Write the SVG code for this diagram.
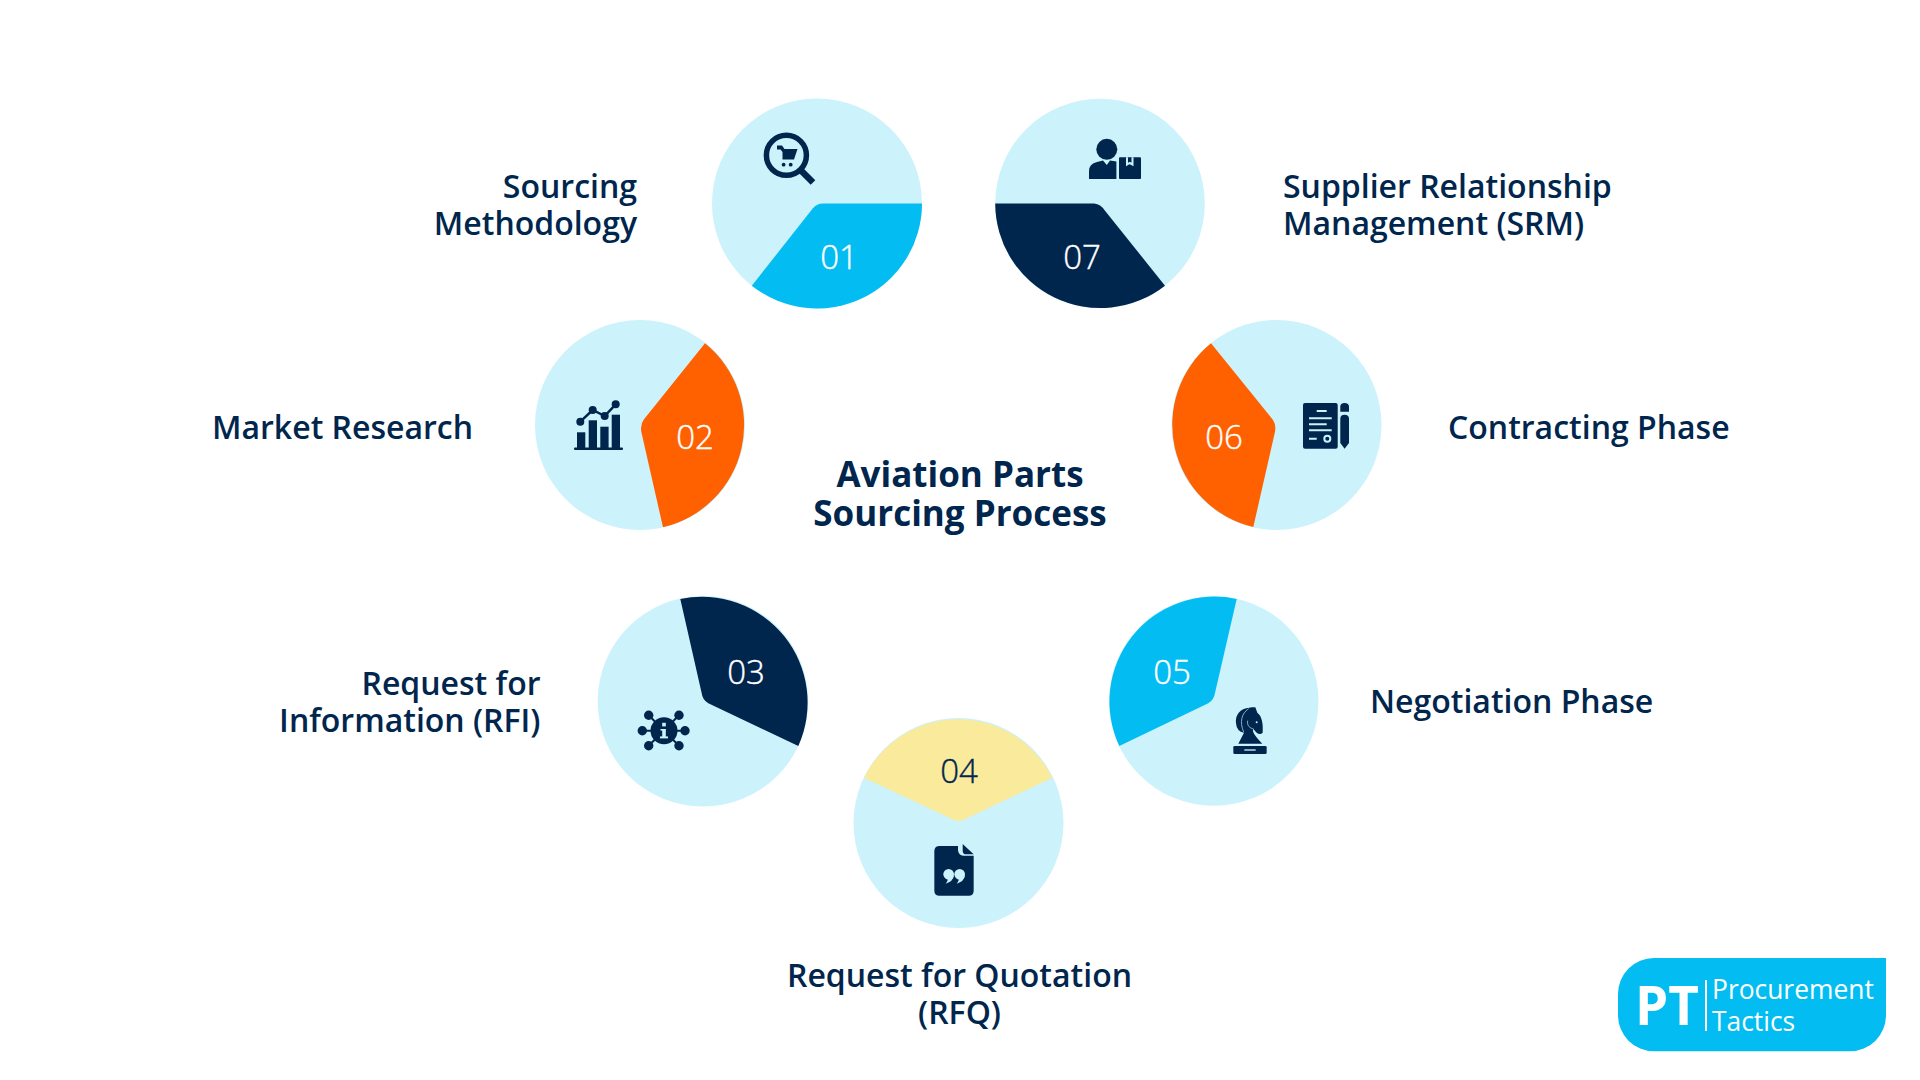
<svg xmlns="http://www.w3.org/2000/svg" width="1920" height="1080" viewBox="0 0 1920 1080">
<style>
text{font-family:"Open Sans","Noto Sans","Liberation Sans",sans-serif}
.bg{fill:#ccf2fc}
.cy{fill:#03bdf2}
.nv,.ic{fill:#00264d}
.or{fill:#ff6000}
.ye{fill:#f9ea9c}
.num{font-size:33px;font-weight:300;fill:#fff;stroke:#fff;stroke-width:.4;text-anchor:middle}
.lb{font-size:32px;font-weight:600;fill:#00264d}
.end{text-anchor:end}
.mid{text-anchor:middle}
.title{font-size:35px;font-weight:700;fill:#00264d;text-anchor:middle}
.lt{stroke:#ccf2fc;stroke-width:2;fill:none}
.st{stroke:#00264d;fill:none}
</style>
<rect width="1920" height="1080" fill="#fff"/>

<g id="node-01">
<circle class="bg" cx="817" cy="203.5" r="105"/>
<path class="cy" d="M922 203.5A105 105 0 0 1 751.8 285.7L812.9 208.3Q817 203.7 822.9 203.5Z"/>
<text class="num" x="845" y="269" dx="-6">01</text>
<circle class="st" cx="786.4" cy="155.3" r="20" stroke-width="5.5"/>
<path class="st" d="M801 170.5L813 182.5" stroke-width="6.5"/>
<path class="ic" d="M777 145.5h5l2.5 3.5H797.5L794 159.5H782.5V152L780.5 149.5H777Z"/>
<circle class="ic" cx="783.6" cy="164.7" r="1.9"/><circle class="ic" cx="790.7" cy="164.7" r="1.9"/>
<text class="lb end" x="637" y="198">Sourcing</text>
<text class="lb end" x="637" y="235">Methodology</text>
</g>

<g id="node-02">
<circle class="bg" cx="640" cy="425" r="105"/>
<path class="or" d="M705 343.3A105 105 0 0 1 663 527.3L641.3 431.7Q640 424.5 644 419.3Z"/>
<text class="num" x="695" y="448.5">02</text>
<rect class="ic" x="574" y="447.5" width="49" height="2.4" rx="1"/>
<rect class="ic" x="577" y="432.3" width="8.3" height="16"/><rect class="ic" x="588.7" y="420.3" width="8.3" height="28"/><rect class="ic" x="600.3" y="426.7" width="8.3" height="22"/><rect class="ic" x="611.7" y="414.7" width="8.3" height="34"/>
<path class="st" d="M580.3 421.7L592.7 410L604.7 416L615.7 404.3" stroke-width="2.5"/>
<circle class="ic" cx="580.3" cy="421.7" r="4"/><circle class="ic" cx="592.7" cy="410" r="4"/><circle class="ic" cx="604.7" cy="416" r="4"/><circle class="ic" cx="615.7" cy="404.3" r="4"/>
<text class="lb" x="212" y="439">Market Research</text>
</g>

<g id="node-03">
<circle class="bg" cx="703" cy="701.3" r="105.3"/>
<path class="nv" d="M680.3 599A105.8 105.8 0 0 1 798.3 746L708.3 703.3Q702.5 700 701.7 693.3Z"/>
<text class="num" x="746" y="683.7">03</text>
<path class="st" d="M648.7 715.3L679 745.7M679 715.3L648.7 745.7M642.3 730.7H685" stroke-width="2"/>
<circle class="ic" cx="664" cy="730.7" r="13.5"/>
<circle class="ic" cx="648.7" cy="715.3" r="4.7"/><circle class="ic" cx="679" cy="715.3" r="4.7"/><circle class="ic" cx="642.3" cy="730.7" r="4.7"/><circle class="ic" cx="685" cy="730.7" r="4.7"/><circle class="ic" cx="648.7" cy="745.7" r="4.7"/><circle class="ic" cx="679" cy="745.7" r="4.7"/>
<rect class="bg" x="662.2" y="722.8" width="3.6" height="3.6"/><rect class="bg" x="662.2" y="729" width="3.6" height="8"/><rect class="bg" x="660.5" y="729" width="5" height="1.6"/><rect class="bg" x="660" y="736.4" width="8" height="2"/>
<text class="lb end" x="540.5" y="695">Request for</text>
<text class="lb end" x="540.5" y="732">Information (RFI)</text>
</g>

<g id="node-04">
<circle class="bg" cx="958.5" cy="823" r="105"/>
<path class="ye" d="M864 777.7A105 105 0 0 1 1052.3 777.7L963.3 820Q958.5 822 954 820Z"/>
<text class="num" x="959" y="783" style="fill:#00264d;stroke:#00264d">04</text>
<g transform="translate(850 710) scale(.33333)">
<path class="ic" d="M269 408H324V420Q325 436 340 437H371V542Q371 557 356 557H269Q253 557 253 542V424Q253 408 269 408Z"/>
<path class="ic" d="M338 402L371 433H349Q338 433 338 422Z"/>
<circle class="bg" cx="296" cy="493" r="16"/>
<circle class="bg" cx="329" cy="493" r="16"/>
<path class="bg" d="M312 497Q309 514 287 521Q296 510 292 503Z"/>
<path class="bg" d="M345 497Q342 514 320 521Q329 510 325 503Z"/>
</g>
<text class="lb mid" x="959.5" y="987">Request for Quotation</text>
<text class="lb mid" x="959.5" y="1024">(RFQ)</text>
</g>

<g id="node-05">
<circle class="bg" cx="1213.7" cy="701" r="104.8"/>
<path class="cy" d="M1236.7 599A105 105 0 0 0 1119.3 746L1208.3 703.3Q1214 700 1215.3 691.7Z"/>
<text class="num" x="1172" y="683.7">05</text>
<g transform="translate(1100 590) scale(.33333)">
<rect class="ic" x="400" y="468" width="100" height="24" rx="4"/>
<rect class="bg" x="433" y="478" width="34" height="4"/>
<path class="ic" d="M415 461L432 428Q410 425 408 400C405 375 420 355 448 353L455 352H466L472 368C485 378 490 398 488 428Q480 436 470 428L459 416C456 430 472 444 487 461Z"/>
<path class="lt" d="M446 356C425 370 418 395 431 426M443 392C440 408 452 416 460 416" stroke-width="3"/>
<circle class="bg" cx="470" cy="397" r="3"/>
</g>
<text class="lb" x="1370" y="713">Negotiation Phase</text>
</g>

<g id="node-06">
<circle class="bg" cx="1276.5" cy="425" r="105"/>
<path class="or" d="M1211 343.3A105 105 0 0 0 1253.3 527L1275 431.7Q1276.5 424 1271.7 418.3Z"/>
<text class="num" x="1224" y="448.5">06</text>
<rect class="ic" x="1303" y="403" width="34.7" height="45.7" rx="2"/>
<path class="lt" d="M1316.7 411H1326.7M1309 418.3H1331.7M1309 424.3H1326.7M1309 430.3H1331.7M1309 438.7H1316.7"/>
<circle class="lt" cx="1327.3" cy="438.7" r="3"/>
<path class="ic" d="M1340.3 411.7V406.5Q1340.3 403 1344.6 403T1349 406.5V411.7ZM1340.3 418.5Q1340.3 414.7 1344.6 414.7T1349 418.5V443L1344.6 448.7L1340.3 443Z"/>
<text class="lb" x="1448" y="439">Contracting Phase</text>
</g>

<g id="node-07">
<circle class="bg" cx="1100" cy="203.5" r="104.8"/>
<path class="nv" d="M995.2 203.5A105 105 0 0 0 1165 285.7L1105 210.7Q1100.5 204 1094.3 203.5Z"/>
<text class="num" x="1082" y="269">07</text>
<circle class="ic" cx="1106.8" cy="149.3" r="10.5"/>
<path class="ic" d="M1089 179V171Q1089 164 1097 162L1103 160.5L1106.8 165L1110 160.5L1116.4 161.5V179Z"/>
<rect class="ic" x="1119" y="157.3" width="22" height="21.7" rx="1"/>
<path class="lt" d="M1127 157.3V164.5L1129.7 163L1132.5 164.5V157.3" stroke-width="1.2"/>
<text class="lb" x="1283" y="198">Supplier Relationship</text>
<text class="lb" x="1283" y="235">Management (SRM)</text>
</g>

<g id="title">
<text class="title" x="960" y="486.5">Aviation Parts</text>
<text class="title" x="960" y="526">Sourcing Process</text>
</g>

<g id="logo">
<path class="cy" d="M1654 958H1886V1015A36 36 0 0 1 1850 1051.3H1654A36 36 0 0 1 1618 1015V994A36 36 0 0 1 1654 958Z"/>
<text x="1635" y="1025" font-size="53" font-weight="700" fill="#fff">PT</text>
<rect x="1705" y="980" width="2" height="51" fill="#fff"/>
<text x="1712" y="999" font-size="26.4" fill="#fff">Procurement</text>
<text x="1712" y="1031" font-size="26.4" fill="#fff">Tactics</text>
</g>
</svg>
